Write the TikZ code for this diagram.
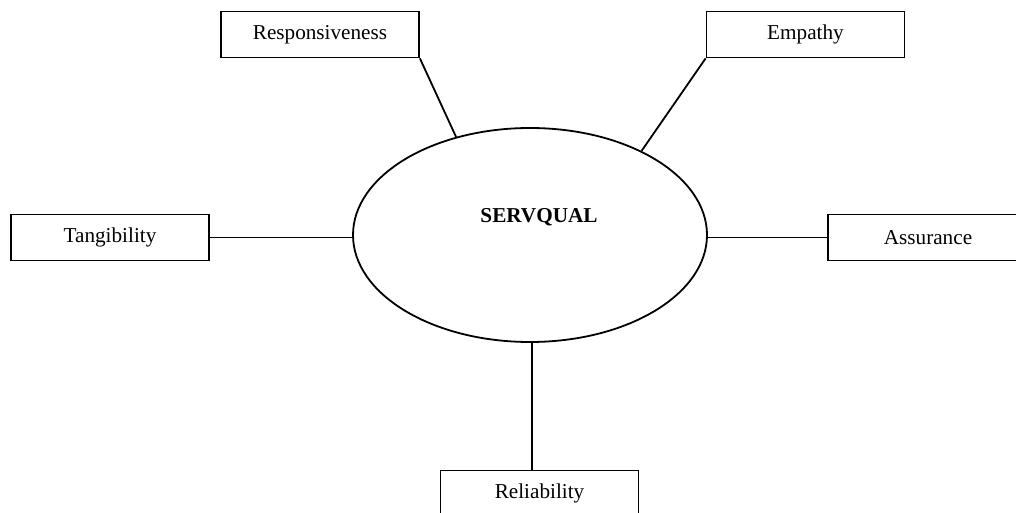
\documentclass[tikz,border=0pt]{standalone}
\usepackage{fontspec}
\setmainfont{Liberation Serif}
\usetikzlibrary{shapes.geometric}

\begin{document}
\begin{tikzpicture}[x=1pt, y=-1pt, line width=1.8pt,
  dimbox/.style={draw, rectangle, minimum width=198pt, minimum height=46pt,
    inner sep=0pt, font=\fontsize{21.2}{25}\selectfont},
  core/.style={draw, ellipse, minimum width=354pt, minimum height=214pt, inner sep=0pt}]
  \useasboundingbox (0,0) rectangle (1016,513);
  \clip (0,0) rectangle (1016,513);

  % Centre
  \node[core] (servqual) at (530,235) {};
  \node[font=\fontsize{21.2}{25}\selectfont\bfseries] (servlabel) at (539,217) {SERVQUAL};

  % Dimensions
  \node[dimbox] (resp) at (320,34.5) {Responsiveness};
  \node[dimbox] (emp) at (805.5,34.5) {Empathy};
  \node[dimbox] (tang) at (110,237.5) {Tangibility};
  \node[dimbox, minimum width=200pt] (assur) at (928,237.5) {Assurance};
  \node[dimbox] (reli) at (539.5,493.5) {Reliability};

  % Links
  \draw (resp.south east) -- (servqual.127.25);
  \draw (emp.south west) -- (servqual.37);
  \draw (tang.east) -- (tang.east -| servqual.west);
  \draw (assur.west) -- (assur.west -| servqual.east);
  \draw (servqual.-89) -- (servqual.-89 |- reli.north);
\end{tikzpicture}
\end{document}
